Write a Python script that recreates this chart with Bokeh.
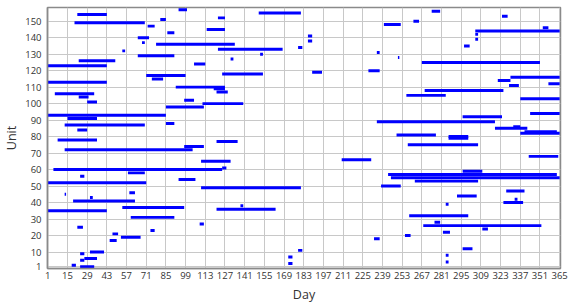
from bokeh.plotting import figure
from bokeh.models import Range1d, FixedTicker
from bokeh.embed import file_html
from bokeh.resources import INLINE

# ---- data: (unit, first day, last day) ----
units = [157, 156, 155, 154, 153, 152, 151, 150, 149, 148, 147, 146, 145, 144,
         143, 142, 141, 140, 139, 138, 137, 136, 135, 134, 133, 132, 131, 130,
         129, 128, 127, 126, 125, 124, 123, 120, 119, 118, 117, 116, 115, 114,
         113, 112, 111, 110, 109, 108, 107, 106, 105, 104, 103, 102, 101, 100,
         98, 94, 93, 92, 91, 89, 88, 87, 86, 85, 84, 83, 82, 81, 80, 79, 78,
         77, 75, 74, 72, 68, 66, 65, 61, 60, 59, 58, 57, 56, 55, 54, 53, 52,
         50, 49, 47, 46, 45, 44, 43, 42, 41, 40, 39, 38, 37, 36, 35, 32, 31,
         28, 27, 26, 25, 24, 23, 22, 21, 20, 19, 18, 17, 12, 11, 10, 9, 8, 7,
         6, 5, 4, 3, 2, 1]
start_day = [94, 274, 151, 22, 324, 122, 81, 261, 20, 240, 72, 353, 114, 305,
             86, 305, 186, 65, 305, 186, 68, 78, 297, 179, 122, 54, 235, 152,
             65, 250, 131, 23, 267, 105, 1, 229, 189, 125, 71, 330, 75, 321,
             1, 357, 329, 92, 119, 269, 121, 6, 256, 23, 337, 98, 29, 111,
             85, 344, 1, 296, 15, 235, 85, 13, 332, 319, 22, 340, 337, 249, 286, 286, 8,
             121, 257, 98, 13, 343, 210, 110, 125, 5, 296, 58, 243, 24, 245, 94, 262, 1,
             238, 110, 327, 59, 13, 292, 31, 333, 19, 325, 284, 138, 54, 121, 1, 258, 60,
             276, 109, 268, 22, 310, 74, 282, 47, 255, 53, 233, 45, 296, 179, 31, 24, 284, 172,
             27, 24, 284, 172, 18, 24]
end_day = [100, 280, 181, 43, 328, 127, 85, 265, 70, 252, 77, 357, 127, 365,
           91, 307, 189, 73, 307, 189, 70, 134, 301, 182, 168, 56, 237, 154,
           91, 251, 133, 49, 351, 113, 43, 237, 196, 154, 99, 365, 83, 330,
           43, 365, 336, 127, 127, 325, 129, 34, 284, 30, 365, 105, 36, 140,
           112, 365, 85, 324, 36, 319, 91, 70, 337, 342, 29, 363, 365, 277, 300, 300, 36,
           136, 307, 112, 104, 364, 231, 131, 128, 125, 310, 70, 363, 27, 365, 106, 307, 71,
           252, 181, 340, 63, 14, 306, 33, 335, 63, 339, 286, 140, 98, 163, 43, 300, 91,
           280, 112, 352, 26, 314, 77, 287, 51, 259, 67, 237, 50, 303, 182, 41, 27, 286, 175,
           36, 27, 286, 175, 21, 34]

x_ticks = list(range(1, 366, 14))
y_ticks = [1] + list(range(10, 151, 10))
x_title = "Day"
y_title = "Unit"

p = figure(width=572, height=305, output_backend="svg", toolbar_location=None,
           x_range=Range1d(0.8, 365.6), y_range=Range1d(0, 158.3),
           min_border_left=40, min_border_right=12, min_border_top=7,
           min_border_bottom=37)

p.hbar(y=units, left=start_day, right=end_day, height=1.8,
       fill_color="#0000ff", line_color=None)

p.xaxis.ticker = FixedTicker(ticks=x_ticks)
p.yaxis.ticker = FixedTicker(ticks=y_ticks)
p.xaxis.axis_label = x_title
p.yaxis.axis_label = y_title

for ax in (p.xaxis, p.yaxis):
    ax.major_tick_out = 0
    ax.major_tick_in = 0
    ax.minor_tick_out = 0
    ax.minor_tick_in = 0
    ax.axis_line_color = "#8a8a8a"
    ax.axis_line_width = 1.5
    ax.major_label_text_font = "Open Sans"
    ax.major_label_text_font_size = "9.5px"
    ax.major_label_text_color = "#333333"
    ax.axis_label_text_font = "Open Sans"
    ax.axis_label_text_font_size = "12.5px"
    ax.axis_label_text_font_style = "normal"
    ax.axis_label_text_color = "#333333"

p.xaxis.major_label_standoff = 3
p.yaxis.major_label_standoff = 6
p.xaxis.axis_label_standoff = 4
p.yaxis.axis_label_standoff = 2

p.xgrid.grid_line_color = "#c8c8c8"
p.ygrid.grid_line_color = "#c8c8c8"
p.xgrid.grid_line_width = 1
p.ygrid.grid_line_width = 1
p.outline_line_color = "#8a8a8a"
p.outline_line_width = 1.5
p.background_fill_color = "white"
p.border_fill_color = "white"

open("out.html", "w").write(file_html(p, INLINE))
